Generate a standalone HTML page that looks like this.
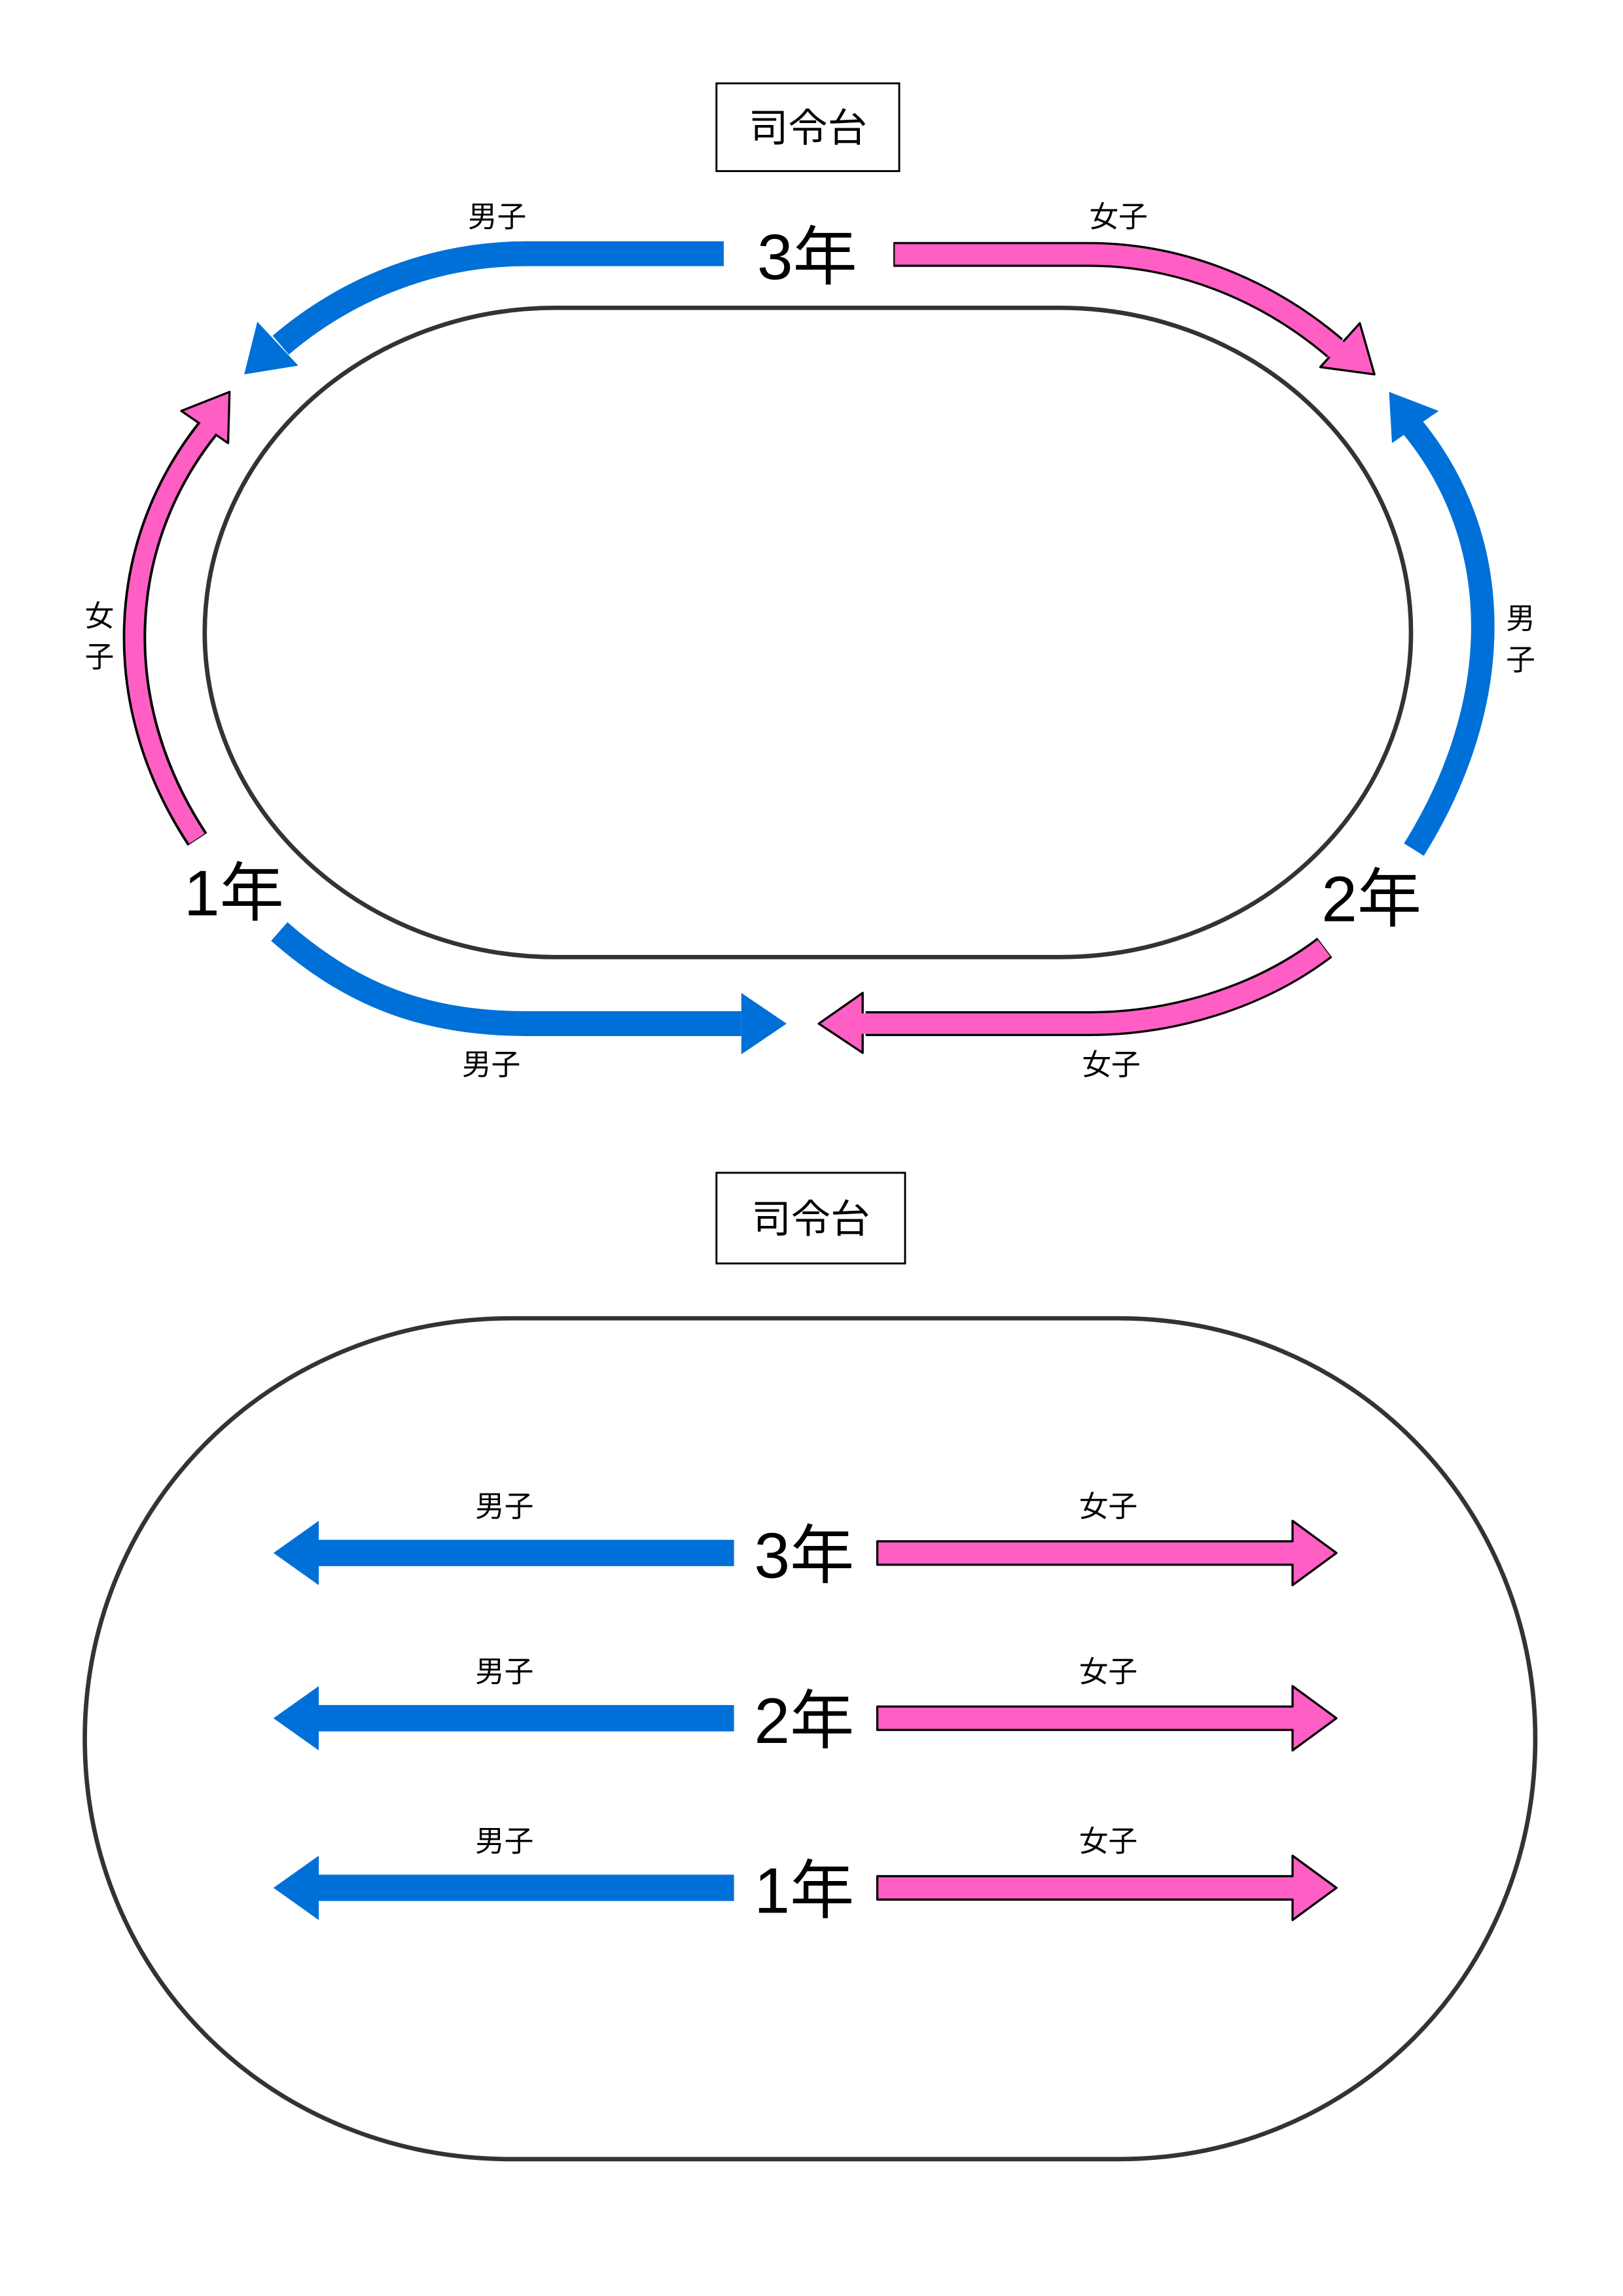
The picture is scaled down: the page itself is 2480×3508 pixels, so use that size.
<!DOCTYPE html>
<html><head><meta charset="utf-8"><style>
html,body{margin:0;padding:0;background:#fff;}
svg{display:block;}
text{font-family:"Liberation Sans","Noto Sans CJK JP",sans-serif;fill:#000;}
</style></head><body>
<svg width="2480" height="3508" viewBox="0 0 1110 1570.1" xmlns="http://www.w3.org/2000/svg">
<rect x="0" y="0" width="1110" height="1570.1" fill="#fff"/>
<rect x="490" y="57" width="125" height="60" fill="#fff" stroke="#000" stroke-width="1.3"/>
<text x="552.5" y="97" font-size="27" text-anchor="middle">司令台</text>
<path d="M380,210.5 L725,210.5 A240,222 0 0 1 725,654.5 L380,654.5 A240,222 0 0 1 380,210.5 Z" fill="none" stroke="#333" stroke-width="3"/>

<!-- top-left blue -->
<path d="M495,173.5 L360,173.5 C300,173.5 240,195 192,236" fill="none" stroke="#0070d9" stroke-width="17"/>
<polygon points="167,256 176,220 204,250" fill="#0070d9"/>
<!-- top-right pink -->
<path d="M611,174 L745,174 C805,174 865,197 913,238" fill="none" stroke="#000" stroke-width="17"/>
<polygon points="940,256 930,221 903,251" fill="#ff5fc4" stroke="#000" stroke-width="1.5" stroke-linejoin="round"/>
<path d="M612,174 L745,174 C805,174 865,197 913,238 L919,243" fill="none" stroke="#ff5fc4" stroke-width="14"/>
<!-- right blue -->
<path d="M967,581 C1030,480 1030,370 966,292" fill="none" stroke="#0070d9" stroke-width="16"/>
<polygon points="950,268 984,281 952,303" fill="#0070d9"/>
<!-- left pink -->
<path d="M135,574 C73,480 80,370 143,292" fill="none" stroke="#000" stroke-width="16"/>
<polygon points="157,268 124,281 156,303" fill="#ff5fc4" stroke="#000" stroke-width="1.5" stroke-linejoin="round"/>
<path d="M134.7,573.5 C73,480 80,370 143,292 L147,287" fill="none" stroke="#ff5fc4" stroke-width="12.5"/>
<!-- bottom blue -->
<path d="M191,637 C240,680 290,700 360,700 L507,700" fill="none" stroke="#0070d9" stroke-width="17"/>
<polygon points="538,700 507,679 507,721" fill="#0070d9"/>
<!-- bottom pink -->
<path d="M906,648 C860,683 800,700 745,700 L592,700" fill="none" stroke="#000" stroke-width="17"/>
<polygon points="560,700 590,679 590,720" fill="#ff5fc4" stroke="#000" stroke-width="1.5" stroke-linejoin="round"/>
<path d="M905.5,648.4 C860,683 800,700 745,700 L586,700" fill="none" stroke="#ff5fc4" stroke-width="14"/>

<text x="552" y="191" font-size="44" text-anchor="middle">3年</text>
<text x="160" y="626" font-size="44" text-anchor="middle">1年</text>
<text x="938" y="630" font-size="44" text-anchor="middle">2年</text>
<text x="340" y="155" font-size="20" text-anchor="middle">男子</text>
<text x="765" y="155" font-size="20" text-anchor="middle">女子</text>
<text x="336" y="735" font-size="20" text-anchor="middle">男子</text>
<text x="760" y="735" font-size="20" text-anchor="middle">女子</text>
<text x="68" y="428" font-size="20" text-anchor="middle">女</text>
<text x="68" y="456" font-size="20" text-anchor="middle">子</text>
<text x="1040" y="430" font-size="20" text-anchor="middle">男</text>
<text x="1040" y="458" font-size="20" text-anchor="middle">子</text>

<rect x="490" y="802" width="129" height="62" fill="#fff" stroke="#000" stroke-width="1.3"/>
<text x="554.5" y="843" font-size="27" text-anchor="middle">司令台</text>
<path d="M350,901.5 L765,901.5 C925,901.5 1050,1030 1050,1189 C1050,1350 925,1476.5 765,1476.5 L350,1476.5 C185,1476.5 58,1350 58,1189 C58,1030 185,901.5 350,901.5 Z" fill="none" stroke="#333" stroke-width="3"/>

<g id="row">
<polygon points="187,1062 218,1040 218,1053 502,1053 502,1071 218,1071 218,1084" fill="#0070d9"/>
<polygon points="600,1054 884,1054 884,1040 914,1062 884,1084 884,1070 600,1070" fill="#ff5fc4" stroke="#000" stroke-width="1.5" stroke-linejoin="round"/>
<text x="345" y="1037" font-size="20" text-anchor="middle">男子</text>
<text x="758" y="1037" font-size="20" text-anchor="middle">女子</text>
</g>
<use href="#row" y="113"/>
<use href="#row" y="229"/>
<text x="550" y="1079" font-size="44" text-anchor="middle">3年</text>
<text x="550" y="1192" font-size="44" text-anchor="middle">2年</text>
<text x="550" y="1308" font-size="44" text-anchor="middle">1年</text>
</svg>
</body></html>
